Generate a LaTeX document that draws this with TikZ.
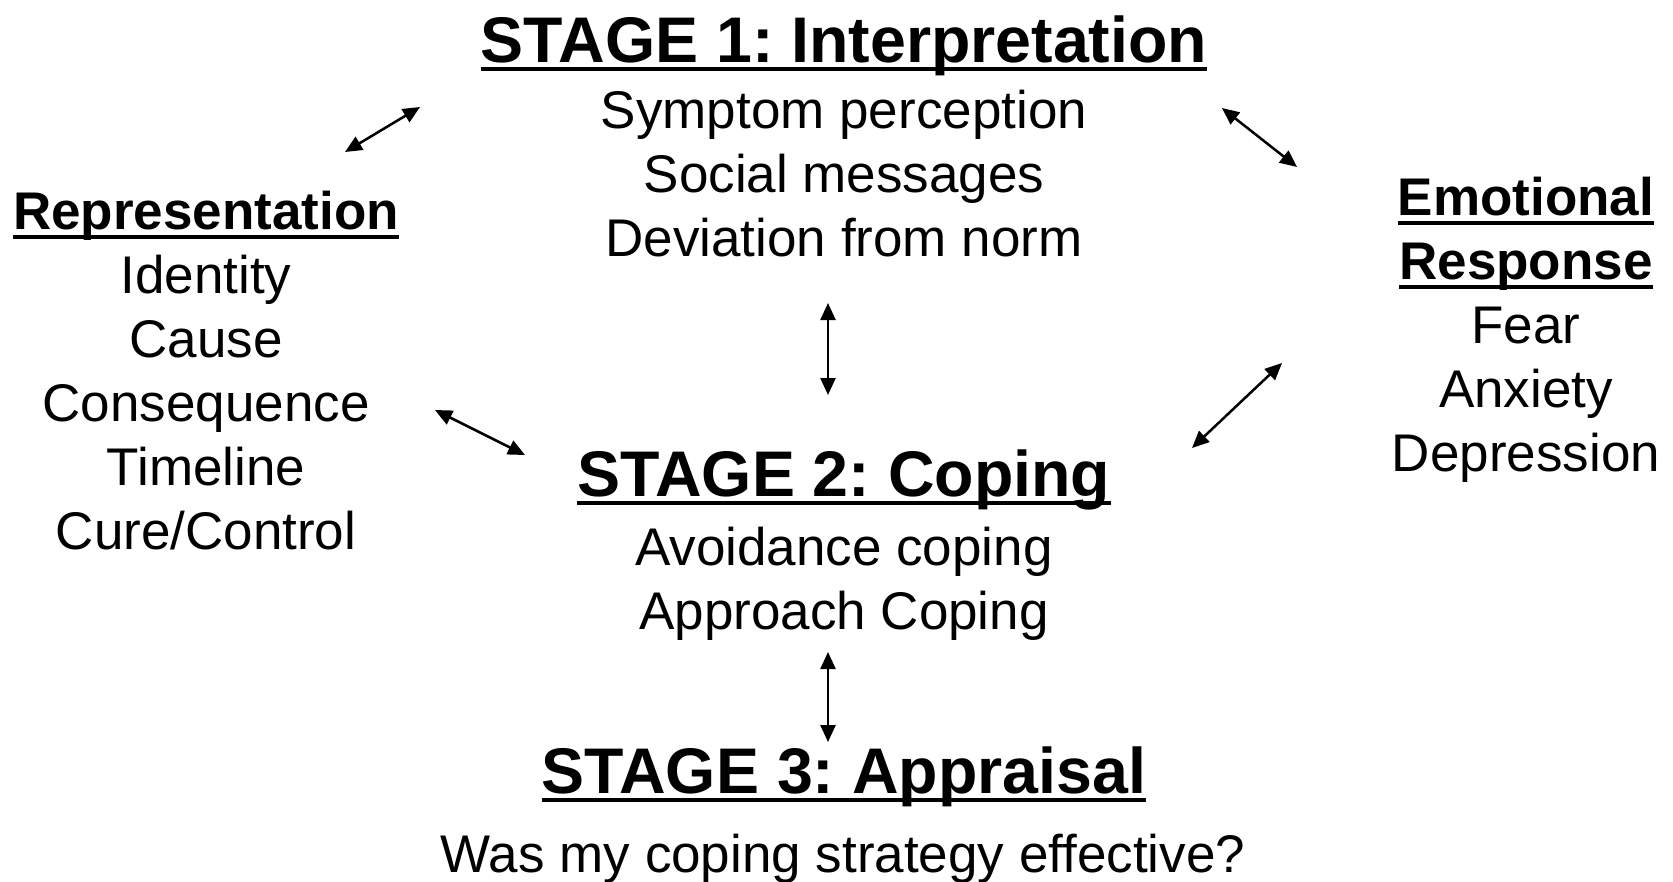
\documentclass[tikz,border=0pt]{standalone}
\usepackage{fontspec}
\setmainfont{Liberation Sans}
\usetikzlibrary{arrows.meta}
\frenchspacing
\begin{document}
\begin{tikzpicture}[x=1pt,y=-1pt,
  title/.style={font=\fontsize{64.5}{64}\selectfont\bfseries\frenchspacing, anchor=base, inner sep=0pt},
  head/.style={font=\fontsize{53}{53}\selectfont\bfseries, anchor=base, inner sep=0pt},
  body/.style={font=\fontsize{53}{53}\selectfont, anchor=base, inner sep=0pt},
  uline/.style={line width=4.5pt},
  dbl/.style={{Triangle[length=17pt,width=15pt]}-{Triangle[length=17pt,width=15pt]}, line width=2.5pt}]
\fill[white] (0,0) rectangle (1673,881);
\useasboundingbox (0,0) rectangle (1673,881);

% Stage 1
\node[title] (s1) at (844,62) {STAGE 1: Interpretation};
\node[body] (s1a) at (844,128) {Symptom perception};
\node[body] (s1b) at (844,192) {Social messages};
\node[body] (s1c) at (844,256) {Deviation from norm};

% Stage 2
\node[title] (s2) at (844,496) {STAGE 2: Coping};
\node[body] (s2a) at (844,565) {Avoidance coping};
\node[body] (s2b) at (844,629) {Approach Coping};

% Stage 3
\node[title] (s3) at (844,793) {STAGE 3: Appraisal};
\node[body] (s3a) at (843,872) {Was my coping strategy effective?};

% Representation
\node[head] (rep) at (206,229) {Representation};
\node[body] (rep1) at (206,293) {Identity};
\node[body] (rep2) at (206,357) {Cause};
\node[body] (rep3) at (206,421) {Consequence};
\node[body] (rep4) at (206,485) {Timeline};
\node[body] (rep5) at (206,549) {Cure/Control};

% Emotional response
\node[head] (emo1) at (1526,215) {Emotional};
\node[head] (emo2) at (1526,279) {Response};
\node[body] (emo3) at (1526,343) {Fear};
\node[body] (emo4) at (1526,407) {Anxiety};
\node[body] (emo5) at (1526,471) {Depression};

% underlines
\foreach \n in {s1,s2,s3}{
  \draw[uline] ([yshift=-7pt]\n.base west) -- ([yshift=-7pt]\n.base east);
}
\foreach \n in {rep,emo1,emo2}{
  \draw[line width=4pt] ([yshift=-8pt]\n.base west) -- ([yshift=-8pt]\n.base east);
}

% arrow end points
\coordinate (a1s) at (345,152); \coordinate (a1e) at (420,107);
\coordinate (a2s) at (1222,108); \coordinate (a2e) at (1297,167);
\coordinate (a3s) at (435,410); \coordinate (a3e) at (525,455);
\coordinate (a4s) at (1192,448); \coordinate (a4e) at (1282,363);
\coordinate (a5s) at (828,303); \coordinate (a5e) at (828,395);
\coordinate (a6s) at (828,652); \coordinate (a6e) at (828,742);

\draw[dbl] (a1s) -- (a1e);
\draw[dbl] (a2s) -- (a2e);
\draw[dbl] (a3s) -- (a3e);
\draw[dbl] (a4s) -- (a4e);
\draw[dbl] (a5s) -- (a5e);
\draw[dbl] (a6s) -- (a6e);
\end{tikzpicture}
\end{document}
